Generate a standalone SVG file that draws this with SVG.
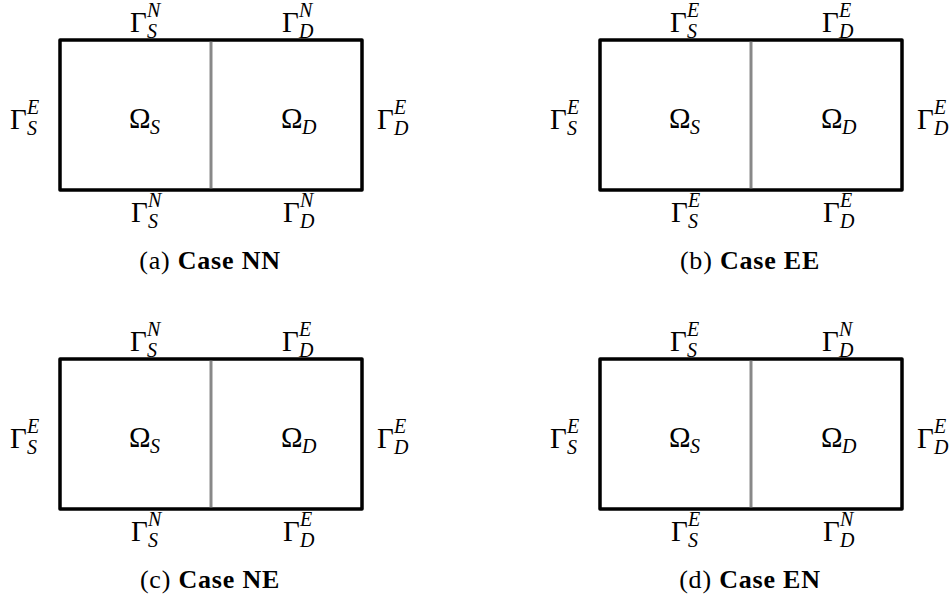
<svg xmlns="http://www.w3.org/2000/svg" width="951" height="605" viewBox="0 0 951 605">
<style>
.frame{fill:none;stroke:#000;stroke-width:3.5;stroke-linejoin:round}
.iface{stroke:#888;stroke-width:3}
.m{font-family:'Liberation Serif','DejaVu Serif','Times New Roman',serif;font-size:29px;fill:#000}
.s{font-family:'Liberation Serif','DejaVu Serif','Times New Roman',serif;font-size:20px;font-style:italic;fill:#000}
.cap{font-family:'Liberation Serif','DejaVu Serif','Times New Roman',serif;font-size:26px;fill:#000;text-anchor:middle;letter-spacing:0.8px}
.b{font-weight:bold}
</style>
<defs>
<g id="box">
<rect class="frame" x="60" y="40" width="302" height="150"/>
<line class="iface" x1="211" y1="41.75" x2="211" y2="188.25"/>
</g>
</defs>
<rect width="951" height="605" fill="#fff"/>

<g id="panel-a">
<use href="#box"/>
<g id="a-omega-s"><text class="m" x="129" y="128">Ω</text><text class="s" x="150" y="134">S</text></g>
<g id="a-omega-d"><text class="m" x="281" y="128">Ω</text><text class="s" x="302" y="134">D</text></g>
<g id="a-top-s"><text class="m" x="130" y="32">Γ</text><text class="s" x="147" y="17">N</text><text class="s" x="147" y="38">S</text></g>
<g id="a-top-d"><text class="m" x="282" y="32">Γ</text><text class="s" x="299" y="17">N</text><text class="s" x="299" y="38">D</text></g>
<g id="a-bot-s"><text class="m" x="131" y="222">Γ</text><text class="s" x="148" y="207">N</text><text class="s" x="148" y="228">S</text></g>
<g id="a-bot-d"><text class="m" x="283" y="222">Γ</text><text class="s" x="300" y="207">N</text><text class="s" x="300" y="228">D</text></g>
<g id="a-left"><text class="m" x="10" y="129">Γ</text><text class="s" x="27" y="114">E</text><text class="s" x="27" y="135">S</text></g>
<g id="a-right"><text class="m" x="377" y="129">Γ</text><text class="s" x="394" y="114">E</text><text class="s" x="394" y="135">D</text></g>
<text class="cap" x="210" y="269">(a) <tspan class="b">Case NN</tspan></text>
</g>

<g id="panel-b" transform="translate(540,0)">
<use href="#box"/>
<g id="b-omega-s"><text class="m" x="129" y="128">Ω</text><text class="s" x="150" y="134">S</text></g>
<g id="b-omega-d"><text class="m" x="281" y="128">Ω</text><text class="s" x="302" y="134">D</text></g>
<g id="b-top-s"><text class="m" x="130" y="32">Γ</text><text class="s" x="147" y="17">E</text><text class="s" x="147" y="38">S</text></g>
<g id="b-top-d"><text class="m" x="282" y="32">Γ</text><text class="s" x="299" y="17">E</text><text class="s" x="299" y="38">D</text></g>
<g id="b-bot-s"><text class="m" x="131" y="222">Γ</text><text class="s" x="148" y="207">E</text><text class="s" x="148" y="228">S</text></g>
<g id="b-bot-d"><text class="m" x="283" y="222">Γ</text><text class="s" x="300" y="207">E</text><text class="s" x="300" y="228">D</text></g>
<g id="b-left"><text class="m" x="10" y="129">Γ</text><text class="s" x="27" y="114">E</text><text class="s" x="27" y="135">S</text></g>
<g id="b-right"><text class="m" x="377" y="129">Γ</text><text class="s" x="394" y="114">E</text><text class="s" x="394" y="135">D</text></g>
<text class="cap" x="210" y="269">(b) <tspan class="b">Case EE</tspan></text>
</g>

<g id="panel-c" transform="translate(0,319)">
<use href="#box"/>
<g id="c-omega-s"><text class="m" x="129" y="128">Ω</text><text class="s" x="150" y="134">S</text></g>
<g id="c-omega-d"><text class="m" x="281" y="128">Ω</text><text class="s" x="302" y="134">D</text></g>
<g id="c-top-s"><text class="m" x="130" y="32">Γ</text><text class="s" x="147" y="17">N</text><text class="s" x="147" y="38">S</text></g>
<g id="c-top-d"><text class="m" x="282" y="32">Γ</text><text class="s" x="299" y="17">E</text><text class="s" x="299" y="38">D</text></g>
<g id="c-bot-s"><text class="m" x="131" y="222">Γ</text><text class="s" x="148" y="207">N</text><text class="s" x="148" y="228">S</text></g>
<g id="c-bot-d"><text class="m" x="283" y="222">Γ</text><text class="s" x="300" y="207">E</text><text class="s" x="300" y="228">D</text></g>
<g id="c-left"><text class="m" x="10" y="129">Γ</text><text class="s" x="27" y="114">E</text><text class="s" x="27" y="135">S</text></g>
<g id="c-right"><text class="m" x="377" y="129">Γ</text><text class="s" x="394" y="114">E</text><text class="s" x="394" y="135">D</text></g>
<text class="cap" x="210" y="269">(c) <tspan class="b">Case NE</tspan></text>
</g>

<g id="panel-d" transform="translate(540,319)">
<use href="#box"/>
<g id="d-omega-s"><text class="m" x="129" y="128">Ω</text><text class="s" x="150" y="134">S</text></g>
<g id="d-omega-d"><text class="m" x="281" y="128">Ω</text><text class="s" x="302" y="134">D</text></g>
<g id="d-top-s"><text class="m" x="130" y="32">Γ</text><text class="s" x="147" y="17">E</text><text class="s" x="147" y="38">S</text></g>
<g id="d-top-d"><text class="m" x="282" y="32">Γ</text><text class="s" x="299" y="17">N</text><text class="s" x="299" y="38">D</text></g>
<g id="d-bot-s"><text class="m" x="131" y="222">Γ</text><text class="s" x="148" y="207">E</text><text class="s" x="148" y="228">S</text></g>
<g id="d-bot-d"><text class="m" x="283" y="222">Γ</text><text class="s" x="300" y="207">N</text><text class="s" x="300" y="228">D</text></g>
<g id="d-left"><text class="m" x="10" y="129">Γ</text><text class="s" x="27" y="114">E</text><text class="s" x="27" y="135">S</text></g>
<g id="d-right"><text class="m" x="377" y="129">Γ</text><text class="s" x="394" y="114">E</text><text class="s" x="394" y="135">D</text></g>
<text class="cap" x="210" y="269">(d) <tspan class="b">Case EN</tspan></text>
</g>
</svg>
